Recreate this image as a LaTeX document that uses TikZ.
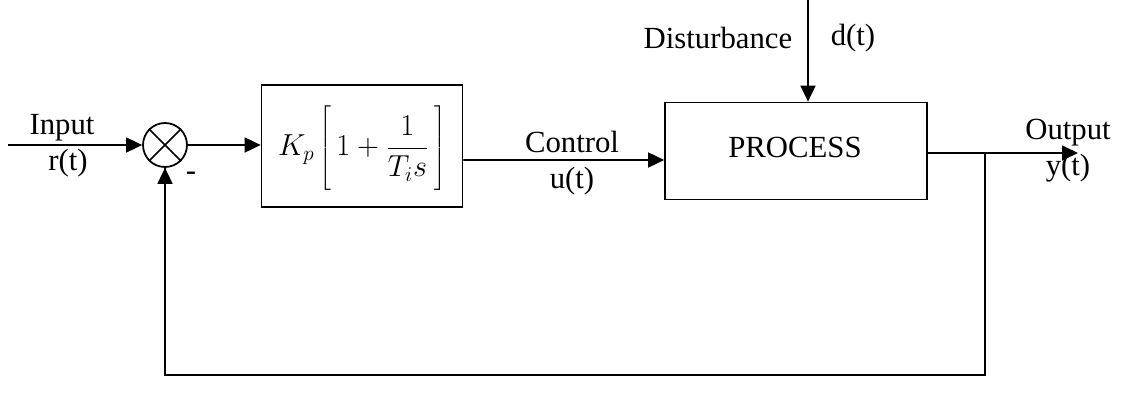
\documentclass[tikz,border=0pt]{standalone}
\usepackage{fontspec}
\setmainfont{Liberation Serif}
\usetikzlibrary{arrows.meta,positioning}

\begin{document}
\begin{tikzpicture}[
    x=0.02cm, y=-0.02cm,
    font=\fontsize{17.5}{20}\selectfont,
    block/.style={rectangle, draw=black, line width=1pt, align=center},
    summer/.style={circle, draw=black, line width=1pt, minimum size=0.88cm, inner sep=0pt},
    arrow/.style={-{Triangle[length=3.2mm, width=3mm]}, line width=1pt},
    wire/.style={line width=1pt}
]
\useasboundingbox (0,0) rectangle (1125,395);

% blocks
\node[summer] (sum) at (165,145) {};
\node[block, minimum width=4.02cm, minimum height=2.44cm] (pid) at (362,146) {};
\node (pidtext) at (362,148)
    {$\displaystyle K_{p}\left[\rule[-21pt]{0pt}{51pt}\,1+\frac{1}{T_{i}s}\,\right]$};
\node[block, minimum width=5.24cm, minimum height=1.94cm] (proc) at (796,151) {};
\node (proctext) at (795,147) {PROCESS};

% cross in the summing junction
\draw[wire] (sum.north west) -- (sum.south east);
\draw[wire] (sum.north east) -- (sum.south west);

% points
\coordinate (in) at (8,145);
\coordinate (dist) at (808,0);
\coordinate (branch) at (985,153);
\coordinate (out) at (1078,153);
\coordinate (fbk) at (985,375);

% labels
\node (inlabel) at (62,128) {Input};
\node (rlabel) at (68,163) {r(t)};
\node (minus) at (191,176) {-};
\node (ctrllabel) at (572,142) {Control};
\node (ulabel) at (572,181) {u(t)};
\node (distlabel) at (718,38) {Disturbance};
\node (dlabel) at (853,38) {d(t)};
\node (outlabel) at (1068,133) {Output};
\node (ylabel) at (1068,168) {y(t)};

% connectors
\draw[arrow] (in) -- (sum.west);
\draw[arrow] (sum.east) -- (pid.west |- sum.east);
\draw[arrow] ([yshift=-0.28cm]pid.east) -- ([yshift=-0.18cm]proc.west);
\draw[arrow] (dist) -- (dist |- proc.north);
\draw[arrow] (proc.east |- branch) -- (out);
\draw[wire] (branch) -- (fbk) -| (sum.south);
\draw[arrow] (fbk -| sum.south) -- (sum.south);
\end{tikzpicture}
\end{document}
